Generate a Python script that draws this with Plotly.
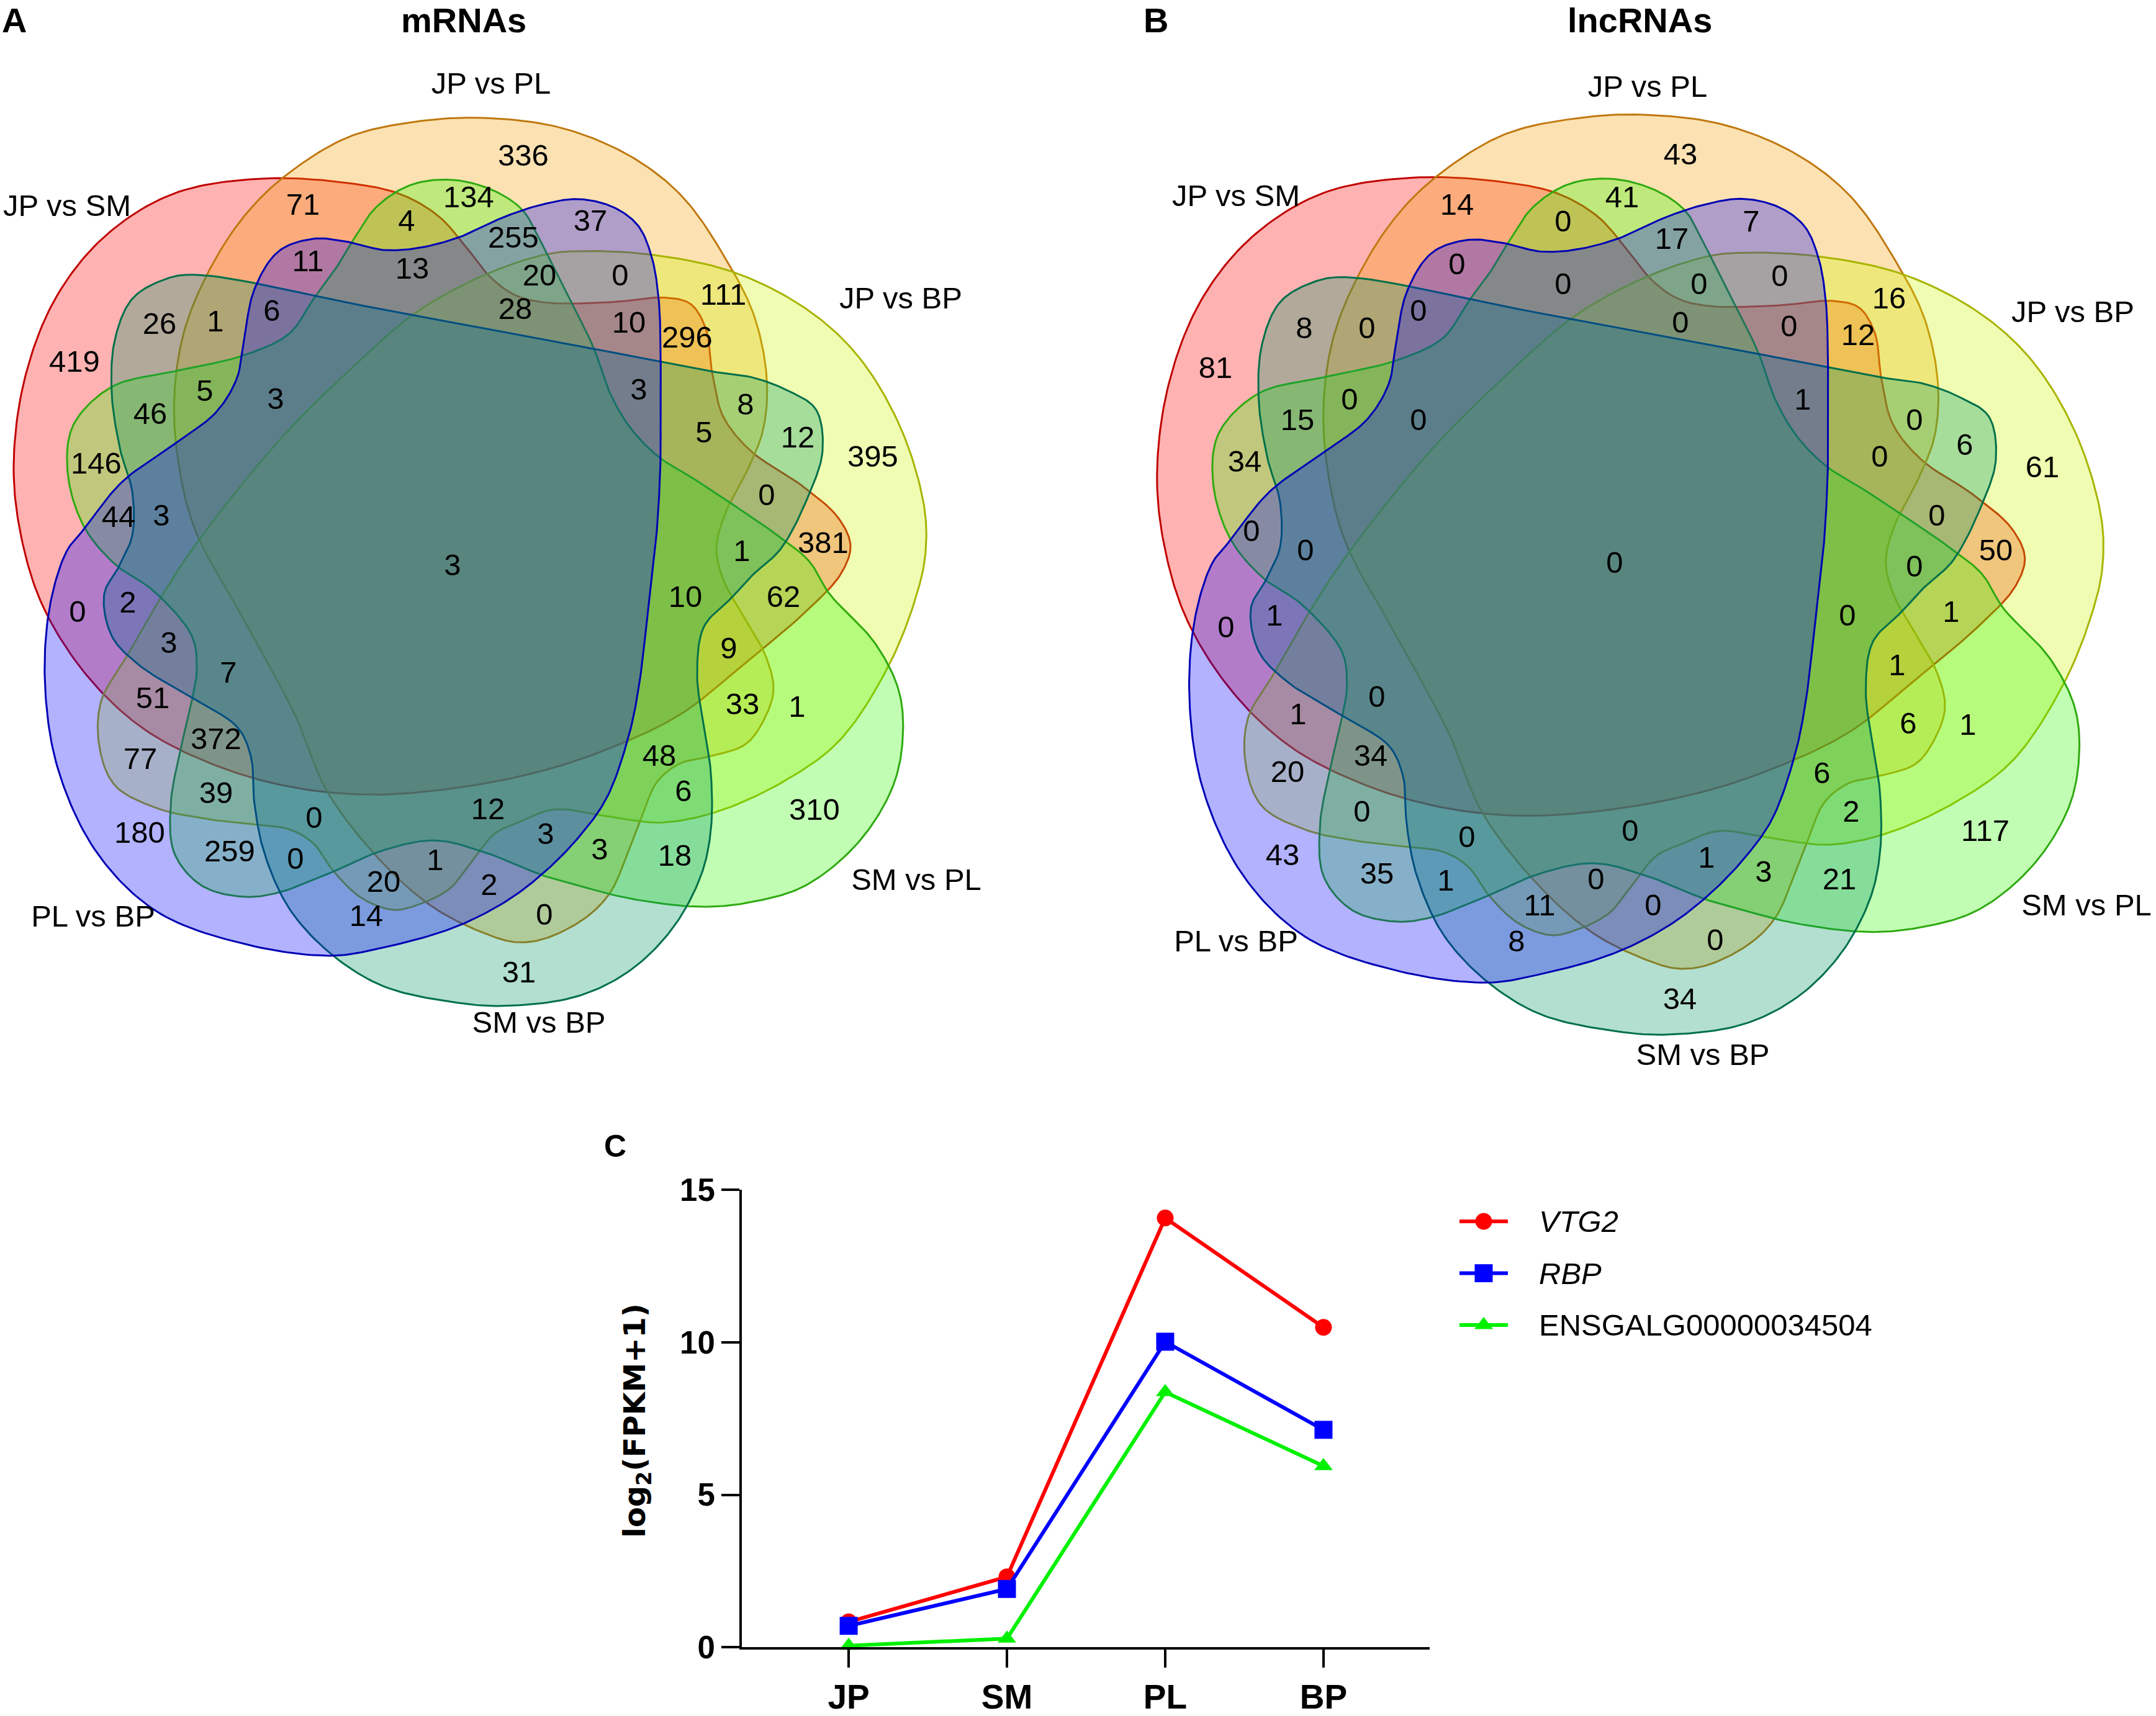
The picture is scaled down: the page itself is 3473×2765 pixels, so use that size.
import numpy as np
import plotly.graph_objects as go

W, H = 3473, 2765
FONT = "Liberation Sans"

# ---------------- data ----------------
set_names = ["JP vs SM", "JP vs PL", "JP vs BP", "SM vs PL", "SM vs BP", "PL vs BP"]

mrna_counts = [336, 71, 134, 4, 37, 255, 11, 13, 20, 0,
               111, 28, 10, 296, 26, 1, 6, 419, 3, 3,
               8, 5, 5, 12, 395, 46, 146, 0, 44, 3,
               381, 1, 3, 62, 0, 2, 10, 9, 3, 7,
               33, 1, 51, 372, 48, 77, 6, 39, 310, 12,
               0, 180, 259, 3, 3, 18, 0, 1, 20, 2,
               14, 0, 31]

lnc_counts = [43, 14, 41, 0, 7, 17, 0, 0, 0, 0,
              16, 0, 0, 0, 12, 8, 0, 81, 0, 15,
              0, 1, 0, 6, 34, 0, 61, 0, 0, 0,
              50, 0, 0, 0, 1, 0, 1, 1, 0, 1,
              6, 1, 20, 34, 6, 0, 2, 117, 0, 0,
              43, 35, 1, 3, 1, 0, 21, 11, 0, 8,
              0, 34]

stages = ["JP", "SM", "PL", "BP"]
vtg2 = [0.83, 2.31, 14.08, 10.49]
rbp = [0.70, 1.91, 10.02, 7.13]
ensgalg = [0.05, 0.28, 8.37, 5.94]
gene_names = ["<i>VTG2</i>", "<i>RBP</i>", "ENSGALG00000034504"]

# ---------------- layout of the venn template (canvas pixels, panel A) ----------------
mrna_xy = [(843, 255), (488, 334), (755, 322), (655, 360), (951, 360), (827, 387), (496, 425), (664, 437), (869, 448), (999, 448),
           (1165, 479), (830, 502), (1013, 524), (1107, 548), (257, 526), (347, 522), (438, 505), (120, 587), (444, 647), (1029, 632),
           (1201, 656), (330, 634), (1134, 702), (1285, 710), (1406, 741), (242, 671), (155, 752), (1235, 803), (191, 838), (260, 836),
           (1326, 880), (1195, 893), (729, 916), (1262, 967), (125, 991), (206, 976), (1104, 967), (1174, 1050), (272, 1041), (368, 1089),
           (1196, 1140), (1284, 1144), (246, 1130), (348, 1196), (1062, 1223), (226, 1228), (1101, 1280), (348, 1283), (1312, 1310), (786, 1309),
           (506, 1324), (225, 1348), (370, 1378), (879, 1350), (966, 1375), (1087, 1385), (476, 1390), (701, 1392), (618, 1427), (788, 1432),
           (590, 1482), (877, 1480), (836, 1573)]

lnc_xy = [(2707, 253), (2347, 334), (2613, 322), (2518, 361), (2821, 361), (2693, 389), (2347, 430), (2518, 462), (2737, 462), (2867, 449),
          (3043, 485), (2285, 505), (2707, 524), (2882, 530), (2993, 544), (2101, 533), (2202, 533), (1958, 597), (2174, 648), (2090, 681),
          (2285, 681), (2904, 648), (3084, 681), (3165, 722), (2005, 749), (3028, 741), (3290, 758), (3120, 836), (2016, 861), (2103, 892),
          (3215, 892), (2601, 912), (3084, 918), (1975, 1016), (2053, 997), (2976, 997), (3143, 991), (3056, 1077), (2218, 1128), (2091, 1156),
          (3074, 1171), (3170, 1173), (2074, 1249), (2208, 1223), (2935, 1251), (2194, 1313), (2982, 1313), (3198, 1345), (2363, 1355), (2626, 1345),
          (2066, 1384), (2218, 1414), (2749, 1388), (2841, 1411), (2329, 1425), (2571, 1423), (2963, 1423), (2480, 1465), (2663, 1465), (2443, 1523),
          (2763, 1521), (2706, 1616)]

mrna_set_xy = [(108, 336), (791, 139), (1451, 485), (1476, 1424), (868, 1654), (150, 1483)]
lnc_set_xy = [(1991, 320), (2654, 144), (3339, 507), (3361, 1465), (2743, 1706), (1991, 1523)]

# outline control points of the six sets (panel A)
outlines = [
    [(22, 752), (40, 610), (90, 480), (170, 380), (280, 312), (420, 288), (561, 295), (645, 313), (707, 349), (752, 400),
     (790, 447), (830, 476), (880, 488), (988, 487), (1070, 480), (1112, 490), (1137, 530), (1147, 600), (1165, 672),
     (1210, 728), (1290, 782), (1350, 835), (1370, 880), (1355, 925), (1300, 985), (1200, 1070), (1100, 1150),
     (1000, 1200), (880, 1242), (730, 1272), (589, 1282), (460, 1268), (340, 1232), (230, 1175), (140, 1090),
     (70, 980), (35, 870)],
    [(780, 190), (904, 206), (1016, 252), (1100, 318), (1174, 426), (1215, 510), (1235, 609), (1230, 690), (1207, 752),
     (1168, 829), (1154, 885), (1165, 935), (1195, 990), (1232, 1055), (1246, 1110), (1235, 1152), (1202, 1200),
     (1145, 1220), (1095, 1232), (1058, 1262), (1035, 1315), (1011, 1377), (983, 1440), (943, 1481), (876, 1515),
     (830, 1520), (786, 1508), (701, 1466), (617, 1393), (527, 1277), (477, 1157), (393, 1000), (314, 854),
     (286, 737), (281, 635), (297, 533), (337, 436), (393, 349), (460, 283), (561, 221), (670, 196)],
    [(880, 410), (932, 405), (1044, 410), (1179, 438), (1297, 497), (1381, 573), (1449, 686), (1488, 813), (1491, 890),
     (1477, 958), (1432, 1073), (1353, 1194), (1269, 1257), (1157, 1309), (1067, 1327), (988, 1319), (893, 1306),
     (840, 1325), (797, 1345), (758, 1393), (724, 1434), (673, 1460), (634, 1468), (584, 1450), (539, 1408),
     (505, 1361), (466, 1338), (415, 1331), (337, 1322), (253, 1304), (185, 1267), (160, 1204), (163, 1131),
     (202, 1063), (253, 974), (314, 880), (449, 711), (561, 599), (673, 502), (786, 441)],
    [(567, 390), (606, 334), (662, 298), (730, 290), (797, 308), (842, 339), (865, 378), (904, 456), (955, 558),
     (983, 635), (1016, 691), (1061, 737), (1117, 772), (1179, 813), (1246, 859), (1303, 905), (1336, 958),
     (1409, 1037), (1448, 1115), (1454, 1194), (1437, 1272), (1381, 1361), (1297, 1429), (1213, 1455), (1129, 1463),
     (1016, 1450), (932, 1429), (876, 1413), (786, 1377), (701, 1356), (617, 1372), (533, 1408), (449, 1440),
     (393, 1447), (325, 1429), (281, 1377), (275, 1298), (292, 1204), (309, 1131), (317, 1079), (309, 1026),
     (247, 953), (185, 910), (135, 849), (109, 762), (118, 686), (180, 624), (281, 599), (393, 573), (466, 538),
     (505, 482), (539, 436)],
    [(314, 443), (600, 496), (880, 548), (1067, 584), (1145, 599), (1213, 609), (1269, 630), (1314, 660), (1325, 727),
     (1303, 798), (1258, 885), (1213, 927), (1179, 964), (1134, 1011), (1123, 1089), (1134, 1173), (1145, 1246),
     (1145, 1340), (1129, 1413), (1084, 1497), (1016, 1565), (932, 1607), (814, 1623), (730, 1617), (617, 1591),
     (533, 1539), (466, 1466), (426, 1377), (410, 1298), (404, 1220), (382, 1173), (309, 1126), (224, 1073),
     (180, 1026), (168, 958), (191, 915), (213, 864), (213, 793), (194, 727), (180, 635), (185, 548), (213, 482),
     (264, 451)],
    [(107, 890), (79, 985), (73, 1115), (95, 1246), (157, 1377), (253, 1471), (393, 1523), (533, 1542), (617, 1529),
     (730, 1497), (814, 1455), (876, 1408), (932, 1351), (977, 1288), (1011, 1194), (1028, 1115), (1044, 985),
     (1056, 880), (1061, 813), (1064, 740), (1064, 660), (1064, 558), (1061, 482), (1050, 415), (1028, 364), (988, 334),
     (932, 321), (876, 329), (814, 349), (741, 382), (673, 400), (617, 403), (561, 390), (505, 385), (449, 405),
     (410, 466), (393, 548), (382, 609), (348, 665), (281, 716), (196, 778), (135, 854)],
]

fill_colors = ["rgba(255,0,0,0.3)", "rgba(245,160,0,0.3)", "rgba(205,245,0,0.3)",
               "rgba(50,250,0,0.3)", "rgba(0,150,100,0.3)", "rgba(0,0,255,0.3)"]
line_colors = ["#C00000", "#C07810", "#A8B400", "#2EAA10", "#00704A", "#0000B4"]
draw_order = [0, 1, 2, 3, 4, 5]

# panel B uses the same template, slightly larger
B_SCALE_X, B_SCALE_Y, B_DX, B_DY = 1.037, 1.036, 1841, -12

# legend rows (canvas pixels)
LEG_TOP, LEG_BOTTOM = 1929, 2180

# the photographed page comes out slightly squeezed in height; pre-compensate
SQ, OFF = 0.9795, 27.7


def py(t):
    """canvas pixel row (as seen in the photo) -> paper fraction"""
    return 1 - ((t - OFF) / SQ) / H


def smooth_closed(pts, steps=16):
    """closed centripetal Catmull-Rom through the control points"""
    P = np.asarray(pts, float)
    n = len(P)
    xs, ys = [], []
    for i in range(n):
        p0, p1, p2, p3 = P[(i - 1) % n], P[i], P[(i + 1) % n], P[(i + 2) % n]
        t0 = 0.0
        t1 = t0 + np.linalg.norm(p1 - p0) ** 0.5
        t2 = t1 + np.linalg.norm(p2 - p1) ** 0.5
        t3 = t2 + np.linalg.norm(p3 - p2) ** 0.5
        for t in np.linspace(t1, t2, steps, endpoint=False):
            a1 = (t1 - t) / (t1 - t0) * p0 + (t - t0) / (t1 - t0) * p1
            a2 = (t2 - t) / (t2 - t1) * p1 + (t - t1) / (t2 - t1) * p2
            a3 = (t3 - t) / (t3 - t2) * p2 + (t - t2) / (t3 - t2) * p3
            b1 = (t2 - t) / (t2 - t0) * a1 + (t - t0) / (t2 - t0) * a2
            b2 = (t3 - t) / (t3 - t1) * a2 + (t - t1) / (t3 - t1) * a3
            c = (t2 - t) / (t2 - t1) * b1 + (t - t1) / (t2 - t1) * b2
            xs.append(c[0])
            ys.append(c[1])
    xs.append(xs[0])
    ys.append(ys[0])
    return np.array(xs), np.array(ys)


fig = go.Figure()

# ---- venn diagrams A and B
for sx, sy, dx, dy in [(1, 1, 0, 0), (B_SCALE_X, B_SCALE_Y, B_DX, B_DY)]:
    for k in draw_order:
        xs, ys = smooth_closed(outlines[k])
        fig.add_trace(go.Scatter(
            x=xs * sx + dx, y=ys * sy + dy, mode="lines", fill="toself",
            fillcolor=fill_colors[k], line=dict(color=line_colors[k], width=3),
            xaxis="x2", yaxis="y2", hoverinfo="skip", showlegend=False
        ))

for counts, pos in [(mrna_counts, mrna_xy), (lnc_counts, lnc_xy)]:
    fig.add_trace(go.Scatter(
        x=[p[0] for p in pos], y=[p[1] for p in pos], mode="text",
        text=[str(c) for c in counts], textposition="middle center",
        textfont=dict(family=FONT, size=49, color="black"),
        xaxis="x2", yaxis="y2", showlegend=False, cliponaxis=False
    ))

for pos in [mrna_set_xy, lnc_set_xy]:
    fig.add_trace(go.Scatter(
        x=[p[0] for p in pos], y=[p[1] for p in pos], mode="text",
        text=set_names, textposition="middle center",
        textfont=dict(family=FONT, size=49, color="black"),
        xaxis="x2", yaxis="y2", showlegend=False, cliponaxis=False
    ))

# ---- line chart C
series = [(vtg2, "#FF0000", "circle", 27),
          (rbp, "#0000FF", "square", 29),
          (ensgalg, "#00F000", "triangle-up", 26)]

for vals, col, sym, size in series:
    fig.add_trace(go.Scatter(
        x=stages, y=vals, mode="lines+markers",
        line=dict(color=col, width=6),
        marker=dict(symbol=sym, size=size, color=col, line=dict(width=0)),
        cliponaxis=False, showlegend=False
    ))

# hand-made legend (large symbols, like the original)
for i, (vals, col, sym, size) in enumerate(series):
    fig.add_trace(go.Scatter(x=[0, 1], y=[i, i], mode="lines", line=dict(color=col, width=6),
                             xaxis="x3", yaxis="y3", showlegend=False, hoverinfo="skip"))
    fig.add_trace(go.Scatter(x=[0.5], y=[i], mode="markers",
                             marker=dict(symbol=sym, size=size, color=col, line=dict(width=0)),
                             xaxis="x3", yaxis="y3", showlegend=False, cliponaxis=False))


def paper_text(x, y, text, size, anchor="center", angle=0, family=FONT):
    return dict(x=x / W, y=py(y), xref="paper", yref="paper", text=text, showarrow=False,
                xanchor=anchor, yanchor="middle", textangle=angle,
                font=dict(family=family, size=size, color="black"))


row_h = (LEG_BOTTOM - LEG_TOP) / len(gene_names)
annotations = [paper_text(2477, LEG_TOP + (i + 0.5) * row_h, name, 49, anchor="left")
               for i, name in enumerate(gene_names)]

annotations += [
    paper_text(23, 32, "<b>A</b>", 56),
    paper_text(747, 32, "<b>mRNAs</b>", 56),
    paper_text(1862, 32, "<b>B</b>", 56),
    paper_text(2641, 32, "<b>lncRNAs</b>", 56),
    paper_text(991, 1850, "<b>C</b>", 50),
    paper_text(1026, 2292, "<b>log<sub>2</sub>(FPKM+1)</b>", 48, angle=-90, family="DejaVu Sans"),
]

fig.update_layout(
    width=W, height=H,
    margin=dict(l=0, r=0, t=0, b=0),
    paper_bgcolor="white", plot_bgcolor="rgba(0,0,0,0)",
    font=dict(family=FONT, color="black"),
    showlegend=False,
    annotations=annotations,
    xaxis=dict(
        domain=[1195 / W, 2303 / W], type="category", categoryarray=stages,
        range=[-0.675, 3.671], showline=True, linecolor="black", linewidth=4,
        ticks="outside", ticklen=29, tickwidth=4, tickcolor="black",
        tickfont=dict(family=FONT, size=55, color="black", weight="bold"),
        showgrid=False, zeroline=False, anchor="y", fixedrange=True
    ),
    yaxis=dict(
        domain=[py(2658), py(1920)], range=[0, 15], tickvals=[0, 5, 10, 15],
        showline=True, linecolor="black", linewidth=4,
        ticks="outside", ticklen=29, tickwidth=4, tickcolor="black",
        tickfont=dict(family=FONT, size=51, color="black", weight="bold"),
        showgrid=False, zeroline=False, anchor="x", fixedrange=True
    ),
    xaxis2=dict(domain=[0, 1], range=[0, W], visible=False, anchor="y2", fixedrange=True),
    yaxis2=dict(domain=[0, 1], range=[OFF + SQ * H, OFF], visible=False, anchor="x2", fixedrange=True),
    xaxis3=dict(domain=[2351 / W, 2429 / W], range=[0, 1], visible=False, anchor="y3", fixedrange=True),
    yaxis3=dict(domain=[py(LEG_BOTTOM), py(LEG_TOP)], range=[2.5, -0.5], visible=False,
                anchor="x3", fixedrange=True),
)

page_fix = (
    "document.documentElement.style.margin='0';"
    "document.body.style.margin='0';document.body.style.padding='0';"
    "document.body.style.overflow='hidden';"
    "var gd=document.getElementsByClassName('plotly-graph-div')[0];"
    "gd.style.position='absolute';gd.style.left='0px';gd.style.top='0px';"
)
fig.write_html("out.html", post_script=page_fix, config={"displayModeBar": False})
